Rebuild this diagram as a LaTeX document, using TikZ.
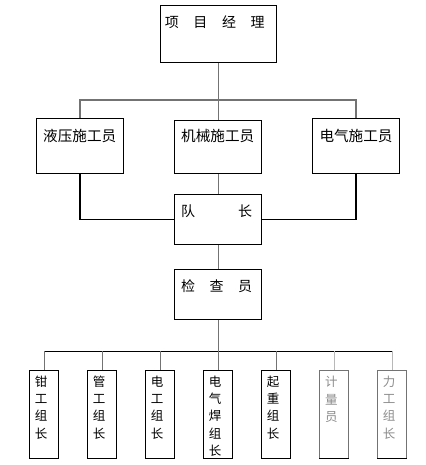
\documentclass[tikz,border=0pt]{standalone}
\usepackage{fontspec}
\newfontfamily\cjk{Noto Sans CJK SC}
\usetikzlibrary{calc}
\begin{document}
\begin{tikzpicture}[x=1pt,y=-1pt,
  box/.style={draw=black,line width=1.1pt,rectangle,inner sep=0pt},
  midbox/.style={box,minimum width=87pt,minimum height=55pt},
  smallbox/.style={box,minimum width=29pt,minimum height=88pt},
  greybox/.style={smallbox,draw=black!55},
  glink/.style={draw=black!55,line width=1.2pt},
  blink/.style={draw=black,line width=1.1pt},
  llink/.style={draw=black!28,line width=1.2pt},
  txt/.style={inner sep=0pt,font=\cjk\fontsize{14}{17}\selectfont},
  coltxt/.style={inner sep=0pt,anchor=north,align=center,font=\cjk\fontsize{12.5}{17.3}\selectfont},
  greytxt/.style={coltxt,text=black!45}
]
\useasboundingbox (0,0) rectangle (425,465);
% boxes
\node[box,minimum width=116pt,minimum height=57pt] (pm) at (218.3,33.8) {};
\node[midbox] (hy) at (80.0,146.0) {};
\node[midbox,minimum height=53pt] (jx) at (218.3,147.2) {};
\node[midbox] (dq) at (356.0,146.0) {};
\node[midbox,minimum height=50pt] (dz) at (218.3,219.3) {};
\node[midbox,minimum height=50pt] (jc) at (218.3,294.3) {};
\node[smallbox] (b1) at (44.3,414.3) {};
\node[smallbox] (b2) at (102.3,414.3) {};
\node[smallbox] (b3) at (160.3,414.3) {};
\node[smallbox] (b4) at (218.3,414.3) {};
\node[smallbox] (b5) at (276.3,414.3) {};
\node[greybox] (b6) at (334.3,414.3) {};
\node[greybox] (b7) at (392.3,414.3) {};
\draw[blink] (b6.south west) -- (b6.south east);
\draw[blink] (b7.south west) -- (b7.south east);
% texts
\node[txt,anchor=west] (tpm) at (164.7,21.7) {项\hspace{14.6pt}目\hspace{14.6pt}经\hspace{14.6pt}理};
\node[txt,anchor=west,font=\cjk\fontsize{14.6}{17}\selectfont] (thy) at (43,135.7) {液压施工员};
\node[txt,anchor=west,font=\cjk\fontsize{14.6}{17}\selectfont] (tjx) at (181,135.7) {机械施工员};
\node[txt,anchor=west,font=\cjk\fontsize{14.6}{17}\selectfont] (tdq) at (319.3,135.7) {电气施工员};
\node[txt,anchor=west] (tdz) at (181,210.7) {队\hspace{43pt}长};
\node[txt,anchor=west] (tjc) at (181,285.7) {检\hspace{14.5pt}查\hspace{14.5pt}员};
\node[coltxt] (t1) at ($(b1.north west)+(11.8,5.8)$) {钳\\工\\组\\长};
\node[coltxt] (t2) at ($(b2.north west)+(11.8,5.8)$) {管\\工\\组\\长};
\node[coltxt] (t3) at ($(b3.north west)+(11.8,5.8)$) {电\\工\\组\\长};
\node[coltxt] (t4) at ($(b4.north west)+(11.8,5.8)$) {电\\气\\焊\\组\\长};
\node[coltxt] (t5) at ($(b5.north west)+(11.8,5.8)$) {起\\重\\组\\长};
\node[greytxt] (t6) at ($(b6.north west)+(12.2,6.5)$) {计\\量\\员};
\node[greytxt] (t7) at ($(b7.north west)+(11.8,5.8)$) {力\\工\\组\\长};
% connectors
\coordinate (tbus) at (218.3,100);
\draw[glink] (pm.south) -- (jx.north);
\draw[glink] (hy.north) |- (tbus) -| (dq.north);
\draw[blink] (hy.south) |- (dz.west);
\draw[blink] (dq.south) |- (dz.east);
\draw[glink] (jx.south) -- (dz.north);
\draw[glink] (dz.south) -- (jc.north);
\coordinate (bus) at (218.3,351.3);
\draw[glink] (jc.south) -- (bus);
\draw[blink] (b1.north |- bus) -- (b7.north |- bus);
\foreach \b in {b1,b2,b3,b4,b5} {\draw[glink] (\b.north) -- (\b.north |- bus);}
\foreach \b in {b6,b7} {\draw[llink] (\b.north) -- (\b.north |- bus);}
\end{tikzpicture}
\end{document}
